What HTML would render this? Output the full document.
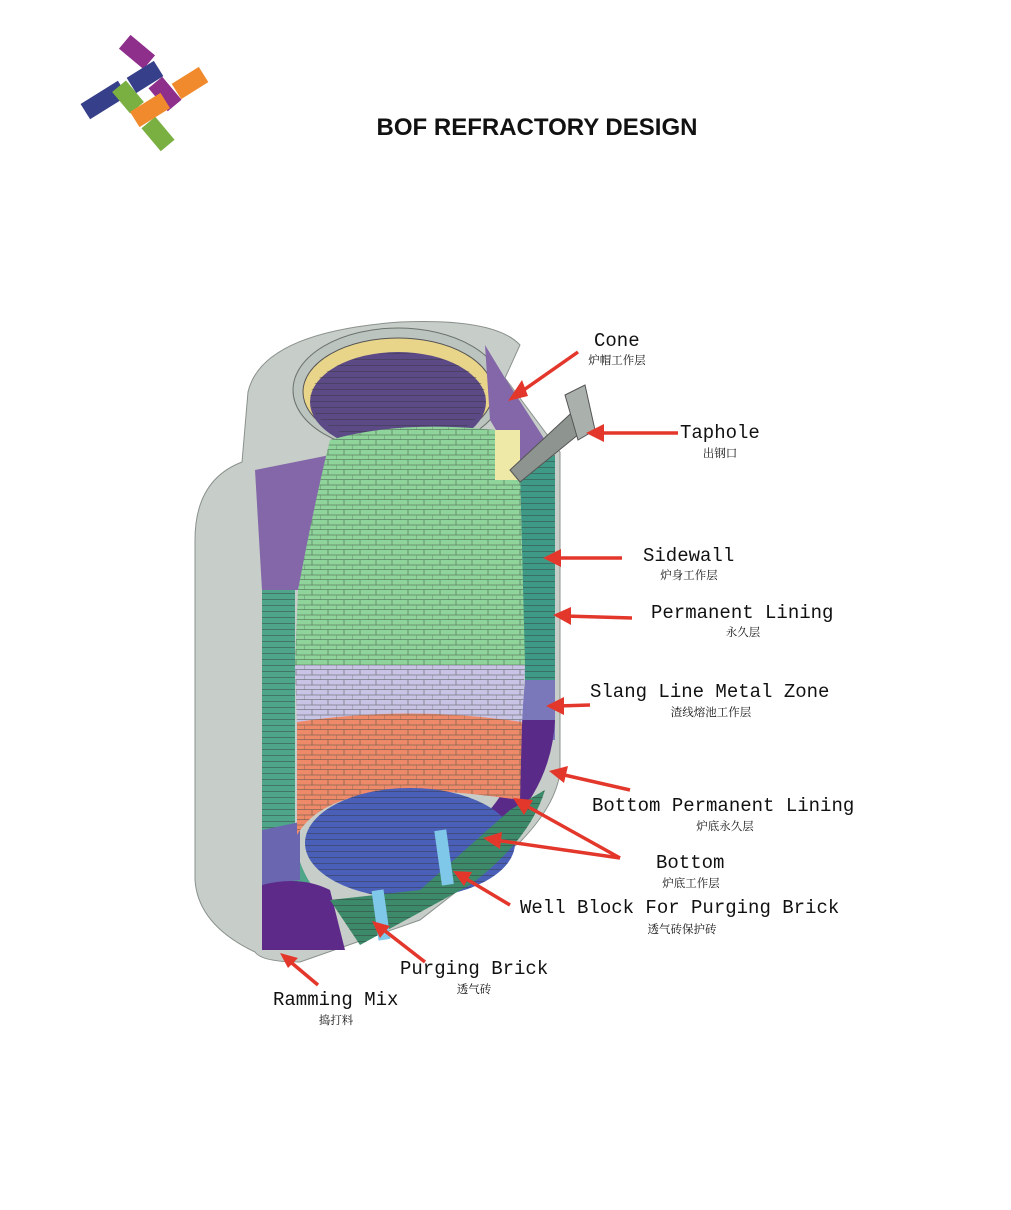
<!DOCTYPE html>
<html><head><meta charset="utf-8"><style>
html,body{margin:0;padding:0;background:#fff;}
body{width:1011px;height:1210px;position:relative;overflow:hidden;}
.l{position:absolute;font-family:"Liberation Mono","Noto Serif CJK SC",monospace;font-size:19px;color:#111;white-space:nowrap;line-height:1}
.c{position:absolute;font-family:"Noto Serif CJK SC","Noto Sans CJK SC",serif;font-size:11.5px;color:#111;white-space:nowrap;line-height:1;transform:translateX(-50%)}
</style></head><body>
<svg width="1011" height="1210" style="position:absolute;left:0;top:0">
<defs>
<pattern id="br" width="16" height="10" patternUnits="userSpaceOnUse"><path d="M0 9.5H16M8 0V5M0 5H16M0 5V10" stroke="#3a4a40" stroke-width="0.8" opacity="0.6" fill="none"/></pattern>
<pattern id="thin" width="8" height="6" patternUnits="userSpaceOnUse"><path d="M0 5.5H8" stroke="#333" stroke-width="0.7" opacity="0.6"/></pattern>
</defs>
<g>
<rect x="-16" y="-9" width="32" height="18" fill="#8e2f8c" transform="translate(137,52) rotate(40)"/>
<rect x="-22" y="-9" width="44" height="18" fill="#353f8a" transform="translate(104,100) rotate(-32)"/>
<rect x="-16" y="-9" width="32" height="18" fill="#353f8a" transform="translate(145,77) rotate(-32)"/>
<rect x="-14" y="-9" width="28" height="18" fill="#79b041" transform="translate(128,97) rotate(50)"/>
<rect x="-15" y="-9" width="30" height="18" fill="#79b041" transform="translate(158,134) rotate(50)"/>
<rect x="-15" y="-9" width="30" height="18" fill="#8e2f8c" transform="translate(165,94) rotate(50)"/>
<rect x="-16" y="-9" width="32" height="18" fill="#f08a2c" transform="translate(190,83) rotate(-32)"/>
<rect x="-18" y="-9" width="36" height="18" fill="#f08a2c" transform="translate(150,110) rotate(-32)"/>
</g>
<text x="537" y="135" text-anchor="middle" font-family="Liberation Sans,sans-serif" font-weight="bold" font-size="24" fill="#111">BOF REFRACTORY DESIGN</text>
<!-- vessel outer shell -->
<path d="M248,392 Q262,332 400,322 Q495,318 520,345 L505,378 L560,452 L560,772 Q556,805 520,842 L420,920 L300,962 Q262,962 255,952 Q198,925 195,880 L195,540 Q195,480 242,462 Z" fill="#c7cec9" stroke="#8a918c"/>
<ellipse cx="398" cy="390" rx="105" ry="62" fill="#bcc4bf" stroke="#6b726d"/>
<ellipse cx="398" cy="392" rx="95" ry="54" fill="#e9d58a" stroke="#555"/>
<ellipse cx="398" cy="402" rx="88" ry="50" fill="#5b4a86"/>
<ellipse cx="398" cy="398" rx="88" ry="45" fill="url(#thin)"/>
<!-- inner walls -->
<path d="M262,590 L295,590 L295,840 Q300,880 330,905 L262,950 Z" fill="#4fa58a"/>
<path d="M262,590 L295,590 L295,840 L262,850 Z" fill="url(#thin)"/>
<path d="M255,470 L330,455 L330,590 L262,590 Z" fill="#8467a8"/>
<path d="M262,830 L300,822 L300,880 L262,885 Z" fill="#6a67b0"/>
<path d="M262,885 Q300,875 330,890 L345,950 L262,950 Z" fill="#5d2a8a"/>
<path d="M520,470 L555,455 L555,680 L525,680 Z" fill="#3e9a86"/>
<path d="M520,470 L555,455 L555,680 L525,680 Z" fill="url(#thin)"/>
<path d="M525,680 L555,680 L555,740 L520,740 Z" fill="#7a78bb"/>
<path d="M520,720 L555,720 Q552,780 510,825 L485,815 Q520,780 520,720 Z" fill="#5a2a88"/>
<path d="M485,345 L505,378 L545,440 L520,470 L490,420 Z" fill="#8467a8"/>
<!-- green cylinder -->
<path d="M330,440 Q400,420 495,430 L520,470 L525,665 L295,665 L298,590 Q315,500 330,440 Z" fill="#8fd49a"/>
<path d="M330,440 Q400,420 495,430 L520,470 L525,665 L295,665 L298,590 Q315,500 330,440 Z" fill="url(#br)"/>
<rect x="495" y="430" width="25" height="50" fill="#efe9a8"/>
<path d="M295,665 L525,665 L522,725 L297,725 Z" fill="#c9c4e6"/>
<path d="M295,665 L525,665 L522,725 L297,725 Z" fill="url(#br)"/>
<path d="M297,722 Q410,705 522,722 L520,800 Q450,790 400,790 Q320,795 297,835 Z" fill="#ee8a6a"/>
<path d="M297,722 Q410,705 522,722 L520,800 Q450,790 400,790 Q320,795 297,835 Z" fill="url(#br)"/>
<!-- bottom -->
<ellipse cx="410" cy="843" rx="105" ry="55" fill="#4a5fb8"/>
<ellipse cx="410" cy="843" rx="105" ry="55" fill="url(#thin)"/>
<path d="M330,900 L420,890 L510,810 L545,790 Q530,840 470,885 L360,945 Z" fill="#3d8a6a"/>
<path d="M330,900 L420,890 L510,810 L545,790 Q530,840 470,885 L360,945 Z" fill="url(#thin)"/>
<rect x="375" y="890" width="12" height="50" fill="#7fc8ea" transform="rotate(-8 381 915)"/>
<rect x="438" y="830" width="12" height="55" fill="#7fc8ea" transform="rotate(-8 444 857)"/>
<!-- taphole -->
<path d="M510,470 L580,405 L590,425 L520,482 Z" fill="#8e9590" stroke="#555"/>
<path d="M565,395 L585,385 L595,430 L578,440 Z" fill="#aab1ac" stroke="#555"/>
<!-- arrows -->
<g stroke="#e4372c" stroke-width="3.5" fill="#e4372c">
<line x1="578" y1="352" x2="518" y2="394"/><line x1="678" y1="433" x2="598" y2="433"/>
<line x1="622" y1="558" x2="555" y2="558"/><line x1="632" y1="618" x2="565" y2="616"/>
<line x1="590" y1="705" x2="558" y2="706"/><line x1="630" y1="790" x2="560" y2="774"/>
<line x1="620" y1="858" x2="523" y2="804"/><line x1="620" y1="858" x2="495" y2="840"/>
<line x1="510" y1="905" x2="463" y2="877"/><line x1="425" y1="962" x2="380" y2="927"/>
<line x1="318" y1="985" x2="287" y2="959"/>
</g>
<g fill="#e4372c">
<polygon points="508,401 522,380 528,396"/>
<polygon points="586,433 604,424 604,442"/>
<polygon points="543,558 561,549 561,567"/>
<polygon points="553,615 571,607 571,625"/>
<polygon points="546,706 564,697 564,715"/>
<polygon points="549,771 568,766 564,783"/>
<polygon points="513,798 533,800 524,815"/>
<polygon points="483,838 502,832 500,849"/>
<polygon points="453,871 472,872 464,886"/>
<polygon points="372,921 390,926 380,938"/>
<polygon points="280,953 298,958 288,968"/>
</g>
</svg>
<div class="l" style="left:594px;top:332px">Cone</div><div class="c" style="left:617px;top:355px">炉帽工作层</div>
<div class="l" style="left:680px;top:424px">Taphole</div><div class="c" style="left:720px;top:448px">出钢口</div>
<div class="l" style="left:643px;top:547px">Sidewall</div><div class="c" style="left:689px;top:570px">炉身工作层</div>
<div class="l" style="left:651px;top:604px">Permanent Lining</div><div class="c" style="left:743px;top:627px">永久层</div>
<div class="l" style="left:590px;top:683px">Slang Line Metal Zone</div><div class="c" style="left:711px;top:707px">渣线熔池工作层</div>
<div class="l" style="left:592px;top:797px">Bottom Permanent Lining</div><div class="c" style="left:725px;top:821px">炉底永久层</div>
<div class="l" style="left:656px;top:854px">Bottom</div><div class="c" style="left:691px;top:878px">炉底工作层</div>
<div class="l" style="left:520px;top:899px">Well Block For Purging Brick</div><div class="c" style="left:682px;top:924px">透气砖保护砖</div>
<div class="l" style="left:400px;top:960px">Purging Brick</div><div class="c" style="left:474px;top:984px">透气砖</div>
<div class="l" style="left:273px;top:991px">Ramming Mix</div><div class="c" style="left:336px;top:1015px">捣打料</div>
</body></html>
